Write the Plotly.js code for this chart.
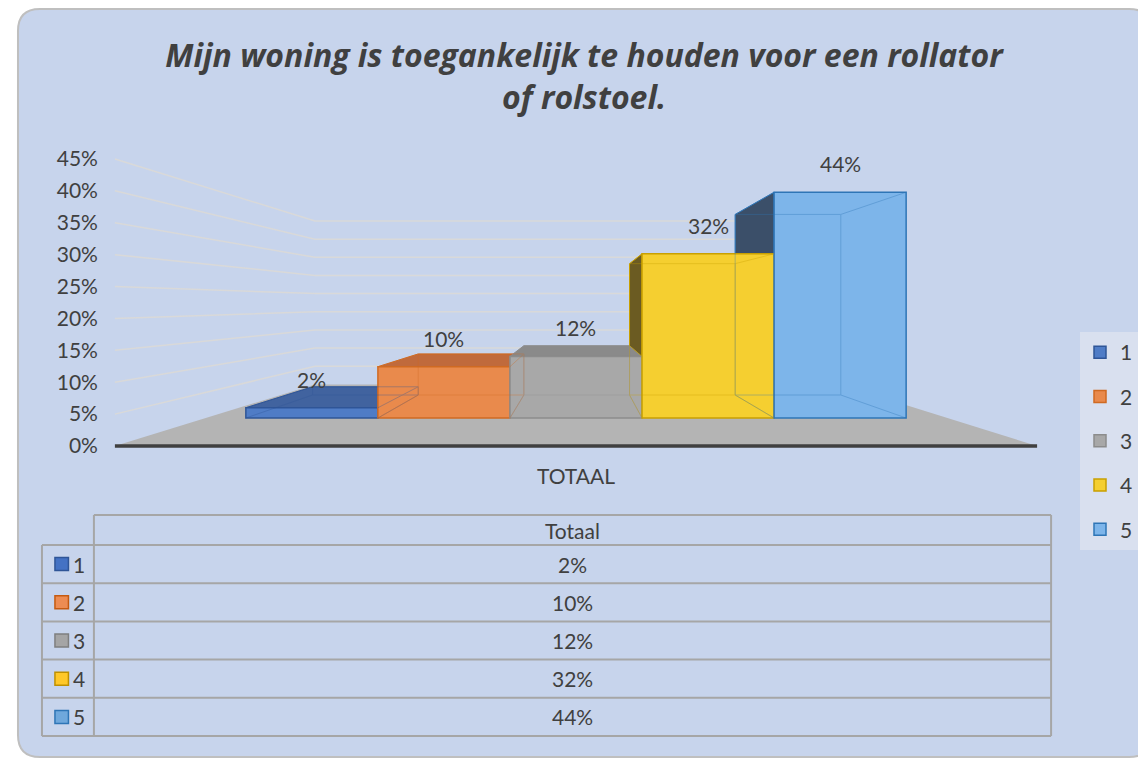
<!DOCTYPE html>
<html><head><meta charset="utf-8">
<script src="https://cdn.plot.ly/plotly-3.0.1.min.js"></script>
<style>html,body{margin:0;padding:0;background:#fff;} #chart{width:1138px;height:759px;}</style>
</head><body><div id="chart"></div>
<script>
// ---------- data ----------
const chartTitle = 'Mijn woning is toegankelijk te houden voor een rollator<br>of rolstoel.';
const categories = ['TOTAAL'];
const tableHeader = 'Totaal';
const seriesNames = ['1', '2', '3', '4', '5'];
const seriesValues = [0.02, 0.10, 0.12, 0.32, 0.44];
const yTickValues = [0, 0.05, 0.10, 0.15, 0.20, 0.25, 0.30, 0.35, 0.40, 0.45];

// ---------- style ----------
const W = 1138, H = 759;
const FONT = 'Lato, "Open Sans", sans-serif';
const TFONT = '"Open Sans", Lato, sans-serif';
const TXT = '#404040';
const FS = 21;
const frontColors = ['#4f7cc6', '#e98a4c', '#a8a8a8', '#f5cf30', '#7db5ea'];
const edgeColors  = ['#2f5597', '#d06a22', '#8c8c8c', '#c9a000', '#2e75b6'];
const shadeColors = ['#41639f', '#c06a3c', '#8a8a8a', '#6b5b22', '#3b4f69'];
const keyFill     = ['#4472c4', '#ed8c53', '#a5a5a5', '#ffc829', '#6fa8dc'];
const keyLine     = ['#2f5597', '#c55a11', '#7f7f7f', '#bf9000', '#2e75b6'];

const fx = p => p / W;
const fy = p => 1 - p / H;

// plot geometry (pixels)
const XL_PX = 115, XR_PX = 1038, UX = XR_PX - XL_PX;
const XDOM = [105, 1048];
const YTOP = 150, YBOT = 452;
const BASE = 418, SCALE = 513;          // front plane of bars
const VP_X = 580, VP_Y = 303;           // perspective centre
const KF = (446 - VP_Y) / (BASE - VP_Y); // floor front depth
const KB = 0.8;                          // bar back depth
const KW = 0.708;                        // back wall depth
const CX = (VP_X - (XL_PX + XR_PX) / 2) / UX;
const CY = (BASE - VP_Y) / SCALE;
const P = (x, v, k) => [CX + (x - CX) * k, CY + (v - CY) * k];
const pt = q => q[0].toFixed(5) + ',' + q[1].toFixed(5);

const xRange = [-0.5 - (XL_PX - XDOM[0]) / UX, 0.5 + (XDOM[1] - XR_PX) / UX];
const yRange = [(BASE - YBOT) / SCALE, (BASE - YTOP) / SCALE];

const bargap = 0.284;
const n = seriesValues.length;
const bw = (1 - bargap) / n;
const barLeft = i => -(1 - bargap) / 2 + i * bw;

// floor x extents (front-plane equivalents)
const fL = CX + (-0.5 - CX) / KF, fR = CX + (0.5 - CX) / KF;

// ---------- traces ----------
const traces = seriesNames.map((nm, i) => ({
  type: 'bar', name: nm, x: categories, y: [seriesValues[i]],
  legendgroup: 'g' + i,
  marker: {color: frontColors[i], line: {color: edgeColors[i], width: 1.5}},
  hoverinfo: 'skip'
}));

// ---------- shapes ----------
const shapes = [];
(function () {
  const x0 = 18, y0 = 9, x1 = 1152, y1 = 757, r = 22;
  const m = (a, b) => fx(a).toFixed(5) + ',' + fy(b).toFixed(5);
  shapes.push({type: 'path', xref: 'paper', yref: 'paper', layer: 'below',
    path: 'M' + m(x0 + r, y0) + 'L' + m(x1 - r, y0) + 'Q' + m(x1, y0) + ' ' + m(x1, y0 + r) +
      'L' + m(x1, y1 - r) + 'Q' + m(x1, y1) + ' ' + m(x1 - r, y1) + 'L' + m(x0 + r, y1) +
      'Q' + m(x0, y1) + ' ' + m(x0, y1 - r) + 'L' + m(x0, y0 + r) + 'Q' + m(x0, y0) + ' ' + m(x0 + r, y0) + 'Z',
    fillcolor: '#c7d4ec', line: {color: '#bfbfbf', width: 2}});
})();

// wall gridlines
yTickValues.filter(t => t > 0).forEach(t => {
  shapes.push({type: 'path', xref: 'x', yref: 'y', layer: 'below',
    path: 'M' + pt(P(fL, t, KF)) + 'L' + pt(P(fL, t, KW)) + 'L' + pt(P(fR, t, KW)),
    line: {color: '#d9d9d9', width: 1.5}});
});
// floor
shapes.push({type: 'path', xref: 'x', yref: 'y', layer: 'below',
  path: 'M' + pt(P(fL, 0, KF)) + 'L' + pt(P(fR, 0, KF)) + 'L' + pt(P(fR, 0, KW)) + 'L' + pt(P(fL, 0, KW)) + 'Z',
  fillcolor: '#b4b4b4', line: {width: 0}});
shapes.push({type: 'path', xref: 'x', yref: 'y', layer: 'below',
  path: 'M' + pt(P(fL, 0, KF)) + 'L' + pt(P(fR, 0, KF)),
  line: {color: '#404040', width: 3.5}});

// bar depth faces
seriesValues.forEach((v, i) => {
  const a = barLeft(i), b = a + bw;
  const poly = (pts, fill, line) => shapes.push({type: 'path', xref: 'x', yref: 'y', layer: 'below',
    path: 'M' + pts.map(pt).join('L') + 'Z', fillcolor: fill, line: {color: line, width: 1}});
  if (v < CY) {
    poly([P(a, v, 1), P(b, v, 1), P(b, v, KB), P(a, v, KB)], shadeColors[i], edgeColors[i]);
  }
  if (a > CX) {
    const h0 = i > 0 ? Math.min(seriesValues[i - 1], v) : 0;
    if (h0 < v) poly([P(a, h0, 1), P(a, v, 1), P(a, v, KB), P(a, h0, KB)], shadeColors[i], edgeColors[i]);
  }
  if (b < CX) {
    const h0 = i < n - 1 ? Math.min(seriesValues[i + 1], v) : 0;
    if (h0 < v) poly([P(b, h0, 1), P(b, v, 1), P(b, v, KB), P(b, h0, KB)], shadeColors[i], edgeColors[i]);
  }
  const bk = [P(a, 0, KB), P(b, 0, KB), P(b, v, KB), P(a, v, KB)];
  const fr = [P(a, 0, 1), P(b, 0, 1), P(b, v, 1), P(a, v, 1)];
  let path = 'M' + bk.map(pt).join('L') + 'Z';
  for (let j = 0; j < 4; j++) path += 'M' + pt(fr[j]) + 'L' + pt(bk[j]);
  shapes.push({type: 'path', xref: 'x', yref: 'y', layer: 'above', path: path,
    line: {color: edgeColors[i], width: 1}, opacity: 0.35});
});

// table
const TL = 42, TK = 94, TR = 1052, HT = 515, R0 = 545, RH = 38.2;
const lineC = '#a6a6a6';
const hl = (x0, x1, y) => shapes.push({type: 'line', xref: 'paper', yref: 'paper', layer: 'below',
  x0: fx(x0), x1: fx(x1), y0: fy(y), y1: fy(y), line: {color: lineC, width: 2}});
const vl = (x, y0, y1) => shapes.push({type: 'line', xref: 'paper', yref: 'paper', layer: 'below',
  x0: fx(x), x1: fx(x), y0: fy(y0), y1: fy(y1), line: {color: lineC, width: 2}});
hl(TK, TR, HT);
for (let r = 0; r <= n; r++) hl(TL, TR, R0 + r * RH);
vl(TL, R0, R0 + n * RH);
vl(TK, HT, R0 + n * RH);
vl(TR, HT, R0 + n * RH);

const annotations = [];
const tfont = {family: FONT, size: FS, color: TXT};
annotations.push({xref: 'paper', yref: 'paper', x: fx((TK + TR) / 2), y: fy((HT + R0) / 2),
  xanchor: 'center', yanchor: 'middle', text: tableHeader, showarrow: false, font: tfont});
seriesNames.forEach((nm, i) => {
  const cy = R0 + (i + 0.5) * RH;
  shapes.push({type: 'rect', xref: 'paper', yref: 'paper', layer: 'below',
    x0: fx(55), x1: fx(68.5), y0: fy(cy - 6.5), y1: fy(cy + 6.5),
    fillcolor: keyFill[i], line: {color: keyLine[i], width: 1.5}});
  annotations.push({xref: 'paper', yref: 'paper', x: fx(71), y: fy(cy), xanchor: 'left', yanchor: 'middle',
    text: nm, showarrow: false, font: tfont});
  annotations.push({xref: 'paper', yref: 'paper', x: fx((TK + TR) / 2), y: fy(cy), xanchor: 'center', yanchor: 'middle',
    text: Math.round(seriesValues[i] * 100) + '%', showarrow: false, font: tfont});
});

// data labels
seriesValues.forEach((v, i) => {
  annotations.push({xref: 'x', yref: 'y', x: barLeft(i) + bw / 2, y: v, xanchor: 'center', yanchor: 'bottom', yshift: 14,
    text: Math.round(v * 100) + '%', showarrow: false, font: tfont});
});

const layout = {
  width: W, height: H,
  margin: {l: 0, r: 0, t: 0, b: 0},
  paper_bgcolor: '#ffffff', plot_bgcolor: 'rgba(0,0,0,0)',
  font: tfont,
  title: {text: '<b><i>' + chartTitle + '</i></b>', x: fx(584), xanchor: 'center', y: fy(67), yanchor: 'middle',
    yref: 'container', font: {family: TFONT, size: 32, color: TXT}},
  barmode: 'group', bargap: bargap, bargroupgap: 0,
  xaxis: {type: 'category', domain: [fx(XDOM[0]), fx(XDOM[1])], range: xRange,
    showgrid: false, zeroline: false, showline: false, ticks: '', ticklabelstandoff: 10,
    tickfont: tfont, fixedrange: true},
  yaxis: {domain: [fy(YBOT), fy(YTOP)], range: yRange,
    tickmode: 'array',
    tickvals: yTickValues.map(t => CY + (t - CY) * KF),
    ticktext: yTickValues.map(t => Math.round(t * 100) + '%'),
    showgrid: false, zeroline: false, showline: false, ticks: '', ticklabelstandoff: 6,
    tickfont: tfont, fixedrange: true},
  showlegend: true,
  legend: {x: fx(1081), y: fy(332), xanchor: 'left', yanchor: 'top', bgcolor: '#d9e0ef', borderwidth: 0,
    font: tfont, tracegroupgap: 14, itemwidth: 30},
  shapes: shapes, annotations: annotations
};

Plotly.newPlot('chart', traces, layout, {displayModeBar: false, staticPlot: true});
</script>
</body></html>
